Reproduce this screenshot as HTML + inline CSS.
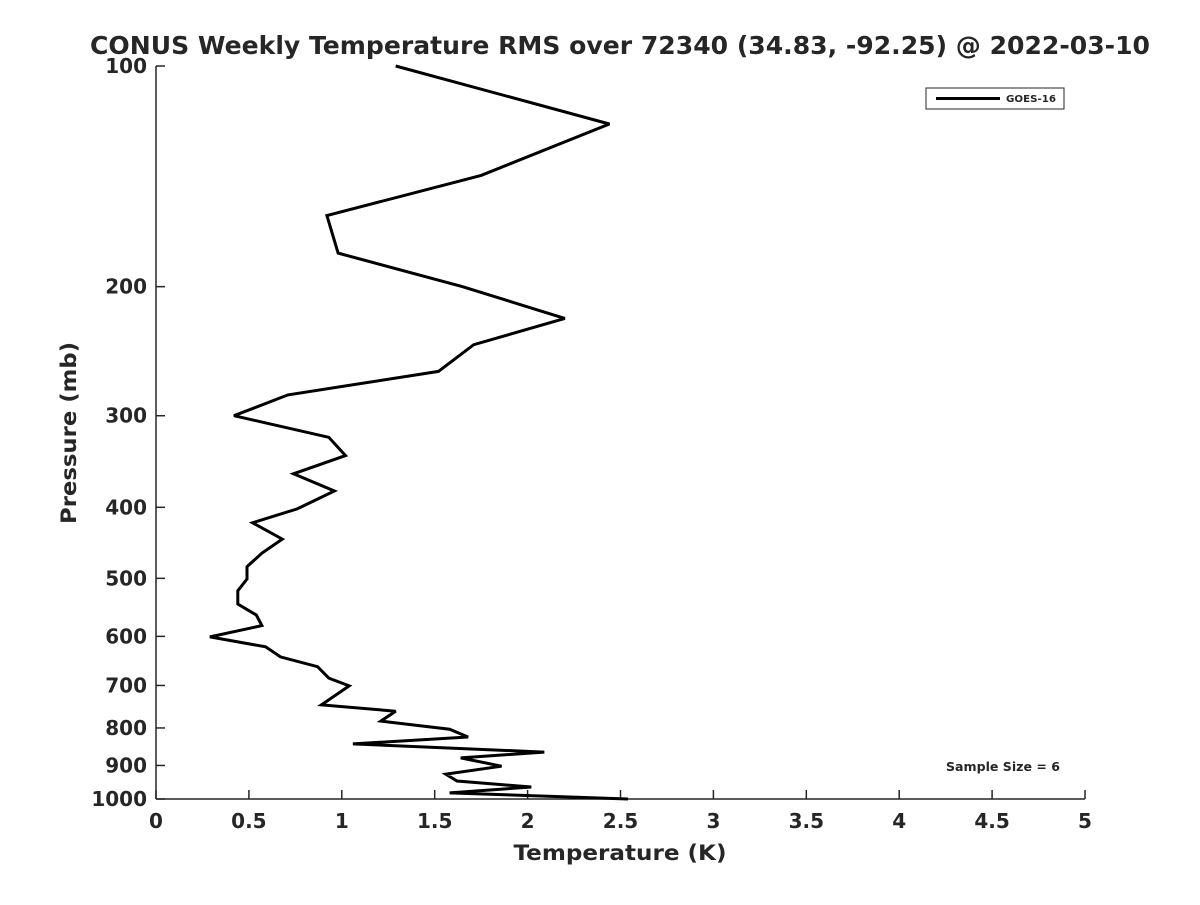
<!DOCTYPE html>
<html><head><meta charset="utf-8"><style>
body{margin:0;background:#fff;}
svg text{font-family:"DejaVu Sans","Liberation Sans",sans-serif;font-weight:bold;fill:#262626;}
</style></head><body>
<svg id="chart" width="1200" height="900" xmlns="http://www.w3.org/2000/svg">
<rect width="1200" height="900" fill="#fff"/>
<text x="620" y="54" font-size="25" text-anchor="middle" fill="#000" textLength="1060" lengthAdjust="spacingAndGlyphs">CONUS Weekly Temperature RMS over 72340 (34.83, -92.25) @ 2022-03-10</text>
<g id="axes"></g>
<g id="series"></g>
<g>
<rect x="926" y="88" width="138" height="21" fill="#fff" stroke="#262626" stroke-width="1"/>
<line x1="936" y1="98.5" x2="1000" y2="98.5" stroke="#000" stroke-width="3"/>
<text x="1006" y="102" font-size="10" textLength="50" lengthAdjust="spacingAndGlyphs">GOES-16</text>
</g>
<text x="946" y="771" font-size="12" fill="#000" textLength="114" lengthAdjust="spacingAndGlyphs">Sample Size = 6</text>
<text x="620" y="860" font-size="21" text-anchor="middle" textLength="213" lengthAdjust="spacingAndGlyphs">Temperature (K)</text>
<text x="0" y="0" font-size="21" text-anchor="middle" textLength="182" lengthAdjust="spacingAndGlyphs" transform="translate(76,433) rotate(-90)">Pressure (mb)</text>
</svg>
<script>
const xTicks=[0,0.5,1,1.5,2,2.5,3,3.5,4,4.5,5];
const yTicks=[100,200,300,400,500,600,700,800,900,1000];
const pressures=[100,120,141,160,180,200,221,240,261,281,300,321,340,360,380,402,420,442,462,482,501,520,542,561,580,601,620,640,660,684,701,744,759,783,803,823,841,863,879,902,925,945,963,981,1000];
const temps=[1.29,2.44,1.75,0.92,0.98,1.65,2.20,1.71,1.52,0.71,0.42,0.93,1.02,0.74,0.96,0.76,0.52,0.68,0.57,0.49,0.49,0.44,0.44,0.54,0.57,0.29,0.59,0.67,0.87,0.93,1.04,0.89,1.29,1.21,1.58,1.68,1.06,2.09,1.64,1.86,1.56,1.62,2.02,1.58,2.54];
const L=156,R=1085,T=66,B=799;
const xs=v=>L+(v-0)/(5-0)*(R-L);
const ys=p=>T+(Math.log10(p)-2)/1*(B-T);
const NS='http://www.w3.org/2000/svg';
const ax=document.getElementById('axes');
function mk(tag,attrs,parent){const e=document.createElementNS(NS,tag);for(const k in attrs)e.setAttribute(k,attrs[k]);parent.appendChild(e);return e;}
let l=mk('line',{x1:L,y1:T,x2:L,y2:B,stroke:'#262626','stroke-width':1.5},ax);


l=mk('line',{x1:L,y1:B,x2:R,y2:B,stroke:'#262626','stroke-width':1.5},ax);


xTicks.forEach(v=>{
 const x=xs(v);
 const t=mk('line',{x1:x,y1:B,x2:x,y2:B-9,stroke:'#262626','stroke-width':1.5},ax);
 
 
 const tx=mk('text',{x:x,y:B+29,'font-size':20,'text-anchor':'middle'},ax);
 tx.textContent=v;
 
 
});
yTicks.forEach(v=>{
 const y=ys(v);
 const t=mk('line',{x1:L,y1:y,x2:L+9,y2:y,stroke:'#262626','stroke-width':1.5},ax);
 
 
 const tx=mk('text',{x:L-9,y:y+7,'font-size':20,'text-anchor':'end'},ax);
 tx.textContent=v;
 
 
});
const pts=temps.map((t,i)=>xs(t).toFixed(1)+','+ys(pressures[i]).toFixed(1)).join(' ');
const pl=mk('polyline',{points:pts,fill:'none',stroke:'#000','stroke-width':3,'stroke-linejoin':'miter','stroke-miterlimit':3},document.getElementById('series'));


</script>
</body></html>
